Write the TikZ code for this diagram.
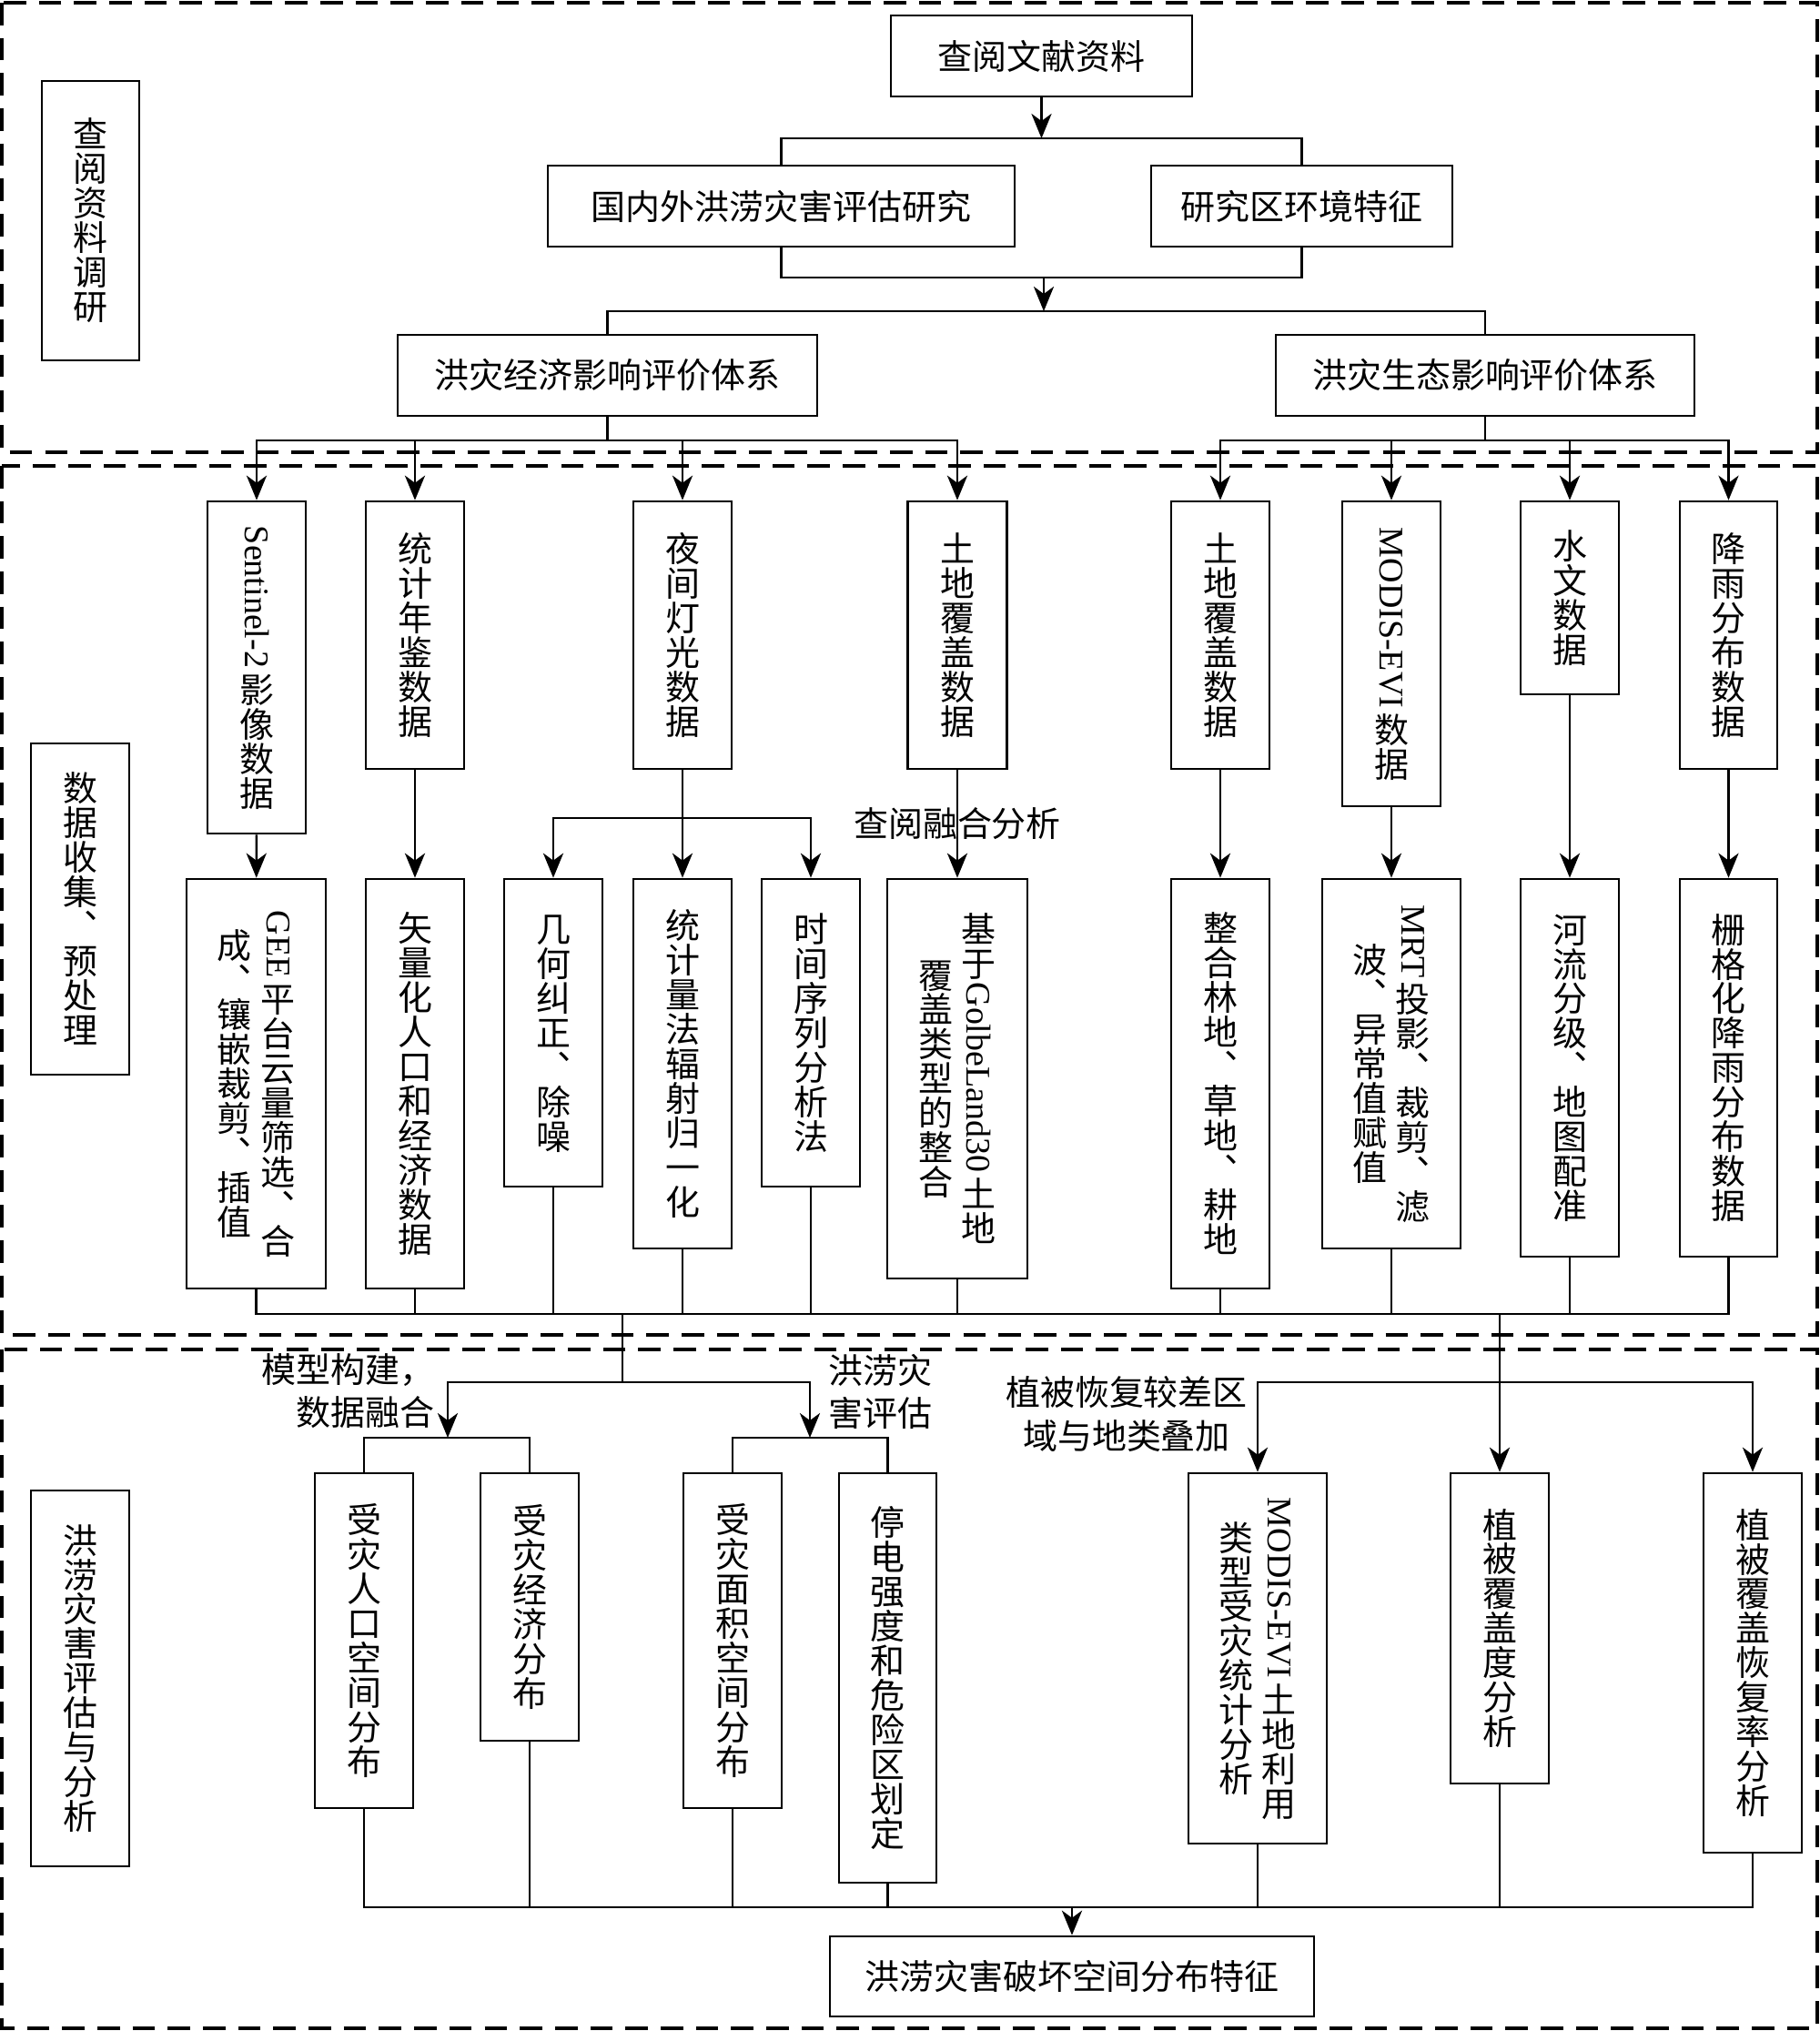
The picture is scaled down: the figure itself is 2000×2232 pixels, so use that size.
\documentclass[tikz,border=0pt]{standalone}
\usepackage{fontspec}
\usepackage{graphicx}
\setmainfont{Liberation Serif}
\newfontfamily\cjk{Noto Sans CJK SC}
\newfontfamily\latfont{Liberation Serif}
\usetikzlibrary{arrows.meta}
\makeatletter
% one vertical column of characters, centred
\newcommand\vt[1]{$\vcenter{\offinterlineskip\@tfor\vchr:=#1\do{\hbox to 1em{\vrule height0.88em depth0.12em width0pt\hss\vchr\hss}}}$}
\makeatother
% latin words lie on their side inside a column
\newcommand\lat[1]{\vbox{\kern0.04em\hbox{\rotatebox{-90}{\latfont #1}}\kern0pt}}
\begin{document}
\begin{tikzpicture}[x=0.01cm, y=-0.01cm,
  box/.style={draw, line width=0.75pt, inner sep=0pt, font=\cjk\fontsize{10.8pt}{10.8pt}\selectfont},
  sz/.style 2 args={minimum width=#1*0.01cm, minimum height=#2*0.01cm},
  lbl/.style={inner sep=0pt, font=\cjk\fontsize{10.8pt}{13.4pt}\selectfont},
  conn/.style={line width=0.7pt},
  arr/.style={line width=0.7pt, -{Stealth[length=7.7pt, width=6.3pt, inset=2.3pt]}},
  zone/.style={line width=1.1pt, dash pattern=on 7pt off 4pt}]
\useasboundingbox (0,0) rectangle (2000,2232);
\draw[zone] (2,3) rectangle (1997,497);
\draw[zone] (2,512) rectangle (1997,1467);
\draw[zone] (2,1483) rectangle (1997,2229);

% stage 1
\node[box, sz={107}{307}] (side1) at (99.5,242.5){\vt{查阅资料调研}};
\node[box, sz={331}{89}] (lit) at (1144.5,61.5){查阅文献资料};
\node[box, sz={513}{89}] (dom) at (858.5,226.5){国内外洪涝灾害评估研究};
\node[box, sz={331}{89}] (env) at (1430.5,226.5){研究区环境特征};
\node[box, sz={461}{89}] (econ) at (667.5,412.5){洪灾经济影响评价体系};
\node[box, sz={460}{89}] (eco) at (1632,412.5){洪灾生态影响评价体系};
\coordinate (b1) at (1144.5,152);
\coordinate (b2) at (1147,305);
\coordinate (b3) at (1147,342);
\draw[arr](lit) -- (b1);
\draw[conn](dom.north) |- (b1) -| (env.north);
\draw[conn](dom.south) |- (b2) -| (env.south);
\draw[arr](b2) -- (b3);
\draw[conn](econ.north) |- (b3) -| (eco.north);

% stage 2
\node[box, sz={108}{364}] (side2) at (88,999){\vt{数据收集︑预处理}};
\node[box, sz={108}{365}] (sen) at (282,733.5){\vt{{\lat{Sentinel-2}}影像数据}};
\node[box, sz={108}{294}] (tjn) at (456,698){\vt{统计年鉴数据}};
\node[box, sz={108}{294}] (ygt) at (750,698){\vt{夜间灯光数据}};
\node[box, sz={109}{294}] (tdf1) at (1052,698){\vt{土地覆盖数据}};
\node[box, sz={108}{294}] (tdf2) at (1341,698){\vt{土地覆盖数据}};
\node[box, sz={108}{335}] (modis) at (1529,718.5){\vt{{\lat{MODIS-EVI}}数据}};
\node[box, sz={108}{212}] (swsj) at (1725,657){\vt{水文数据}};
\node[box, sz={107}{294}] (jyfb) at (1899.5,698){\vt{降雨分布数据}};
\coordinate (b4) at (667.5,484);
\coordinate (b5) at (1632,484);
\draw[conn](econ.south) -- (b4);
\draw[conn](eco.south) -- (b5);
\foreach \n in {sen,tjn,ygt,tdf1} \draw[arr](b4) -| (\n.north);
\foreach \n in {tdf2,modis,swsj,jyfb} \draw[arr](b5) -| (\n.north);

\node[box, sz={153}{450}] (gee) at (281.5,1191){\vt{成︑镶嵌裁剪︑插值}\hspace{2.8pt}\vt{{\lat{GEE}}平台云量筛选︑合}};
\node[box, sz={108}{450}] (slh) at (456,1191){\vt{矢量化人口和经济数据}};
\node[box, sz={108}{338}] (jhjz) at (608,1135){\vt{几何纠正︑除噪}};
\node[box, sz={108}{406}] (tjl) at (750,1169){\vt{统计量法辐射归一化}};
\node[box, sz={108}{338}] (sjxl) at (891,1135){\vt{时间序列分析法}};
\node[box, sz={154}{439}] (golbe) at (1052,1185.5){\vt{覆盖类型的整合}\hspace{2.8pt}\vt{基于{\lat{GolbeLand30}}土地}};
\node[box, sz={108}{450}] (zhld) at (1341,1191){\vt{整合林地︑草地︑耕地}};
\node[box, sz={152}{406}] (mrt) at (1529,1169){\vt{波︑异常值赋值}\hspace{2.8pt}\vt{{\lat{MRT}}投影︑裁剪︑滤}};
\node[box, sz={108}{415}] (hlfj) at (1725,1173.5){\vt{河流分级︑地图配准}};
\node[box, sz={107}{415}] (sgh) at (1899.5,1173.5){\vt{栅格化降雨分布数据}};
\draw[arr](sen) -- (gee);
\draw[arr](tjn) -- (slh);
\coordinate (b6) at (750,899);
\draw[conn](ygt) -- (b6);
\draw[arr](b6) -| (jhjz.north);
\draw[arr](b6) -- (tjl);
\draw[arr](b6) -| (sjxl.north);
\draw[arr](tdf1) -- node[lbl] (lab0) {查阅融合分析} (golbe);
\draw[arr](tdf2) -- (zhld);
\draw[arr](modis) -- (mrt);
\draw[arr](swsj) -- (hlfj);
\draw[arr](jyfb) -- (sgh);
\coordinate (b7) at (684,1444);
\coordinate (b8) at (1648,1444);
\draw[conn](gee.south) |- (b7) -| (sgh.south);
\foreach \n in {slh,jhjz,tjl,sjxl,golbe,zhld,mrt,hlfj} \draw[conn](\n.south) -- (\n.south |- b7);

% stage 3
\node[box, sz={108}{413}] (side3) at (88,1844.5){\vt{洪涝灾害评估与分析}};
\node[box, sz={108}{368}] (srk) at (400,1803){\vt{受灾人口空间分布}};
\node[box, sz={108}{294}] (sjj) at (582,1766){\vt{受灾经济分布}};
\node[box, sz={108}{368}] (smj) at (805,1803){\vt{受灾面积空间分布}};
\node[box, sz={107}{450}] (tdqd) at (975.5,1844){\vt{停电强度和危险区划定}};
\node[box, sz={152}{407}] (mtd) at (1382,1822.5){\vt{类型受灾统计分析}\hspace{2.8pt}\vt{{\lat{MODIS-EVI}}土地利用}};
\node[box, sz={108}{341}] (zbfg) at (1648,1789.5){\vt{植被覆盖度分析}};
\node[box, sz={108}{417}] (hfl) at (1926,1827.5){\vt{植被覆盖恢复率分析}};
\node[box, sz={532}{88}] (final) at (1178,2172){洪涝灾害破坏空间分布特征};
\node[lbl, anchor=east, align=right] (lab1) at (478,1529){模型构建，\\数据融合};
\node[lbl, anchor=west, align=left] (lab2) at (910,1529){洪涝灾\\害评估};
\node[lbl, align=center] (lab3) at (1238,1554){植被恢复较差区\\域与地类叠加};
\coordinate (b9) at (684,1519);
\coordinate (c1) at (492,1580);
\coordinate (c2) at (890,1580);
\coordinate (b10) at (1648,1519);
\draw[conn](b7) -- (b9);
\draw[arr](b9) -| (c1);
\draw[arr](b9) -| (c2);
\draw[conn](srk.north) |- (c1) -| (sjj.north);
\draw[conn](smj.north) |- (c2) -| (tdqd.north);
\draw[arr](b8) -- (zbfg);
\draw[arr](b10) -| (mtd.north);
\draw[arr](b10) -| (hfl.north);
\coordinate (b11) at (1178,2096);
\draw[conn](srk.south) |- (b11) -| (hfl.south);
\foreach \n in {sjj,smj,tdqd,mtd,zbfg} \draw[conn](\n.south) -- (\n.south |- b11);
\draw[arr](b11) -- (final);
\end{tikzpicture}
\end{document}
